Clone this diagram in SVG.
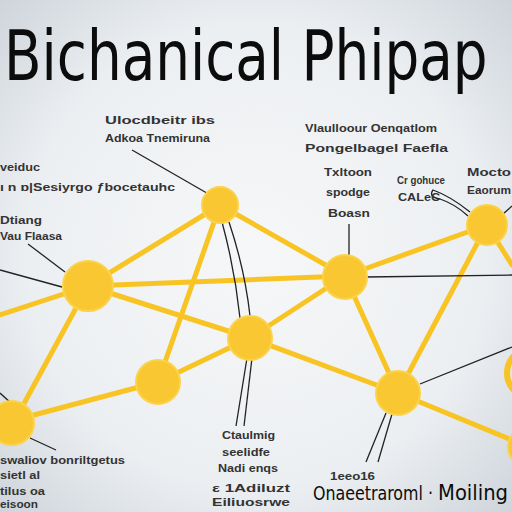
<svg xmlns="http://www.w3.org/2000/svg" width="512" height="512" viewBox="0 0 512 512">
<defs>
<radialGradient id="bg" cx="0.5" cy="0.5" r="0.75">
<stop offset="0" stop-color="#f6f7f8"/>
<stop offset="0.6" stop-color="#eceff2"/>
<stop offset="1" stop-color="#c9d0d7"/>
</radialGradient>
<style>
.edge{stroke:#f8c424;stroke-width:5;fill:none;stroke-linecap:round}
.call{stroke:#222;stroke-width:1.3;fill:none}
.node{fill:#f8c732;stroke:#fbd24a;stroke-width:2}
.lbl{font-family:"Liberation Sans",Arial,sans-serif;font-size:11px;fill:#333;font-weight:bold}
.ttl{font-family:"DejaVu Sans Condensed","DejaVu Sans","Liberation Sans",sans-serif;fill:#0c0c0c}
</style>
</defs>
<rect width="512" height="512" fill="url(#bg)"/>
<g id="title" transform="translate(4,80) scale(0.87,1)">
<text class="ttl" x="0" y="0" font-size="70" font-stretch="condensed">Bichanical Phipap</text>
</g>

<g id="connectors">
<line class="edge" x1="88" y1="286" x2="220" y2="205"/>
<line class="edge" x1="88" y1="286" x2="345" y2="276"/>
<line class="edge" x1="220" y1="205" x2="345" y2="276"/>
<line class="edge" x1="220" y1="205" x2="158" y2="382"/>
<line class="edge" x1="88" y1="286" x2="250" y2="338"/>
<line class="edge" x1="88" y1="286" x2="15" y2="420"/>
<line class="edge" x1="88" y1="286" x2="0" y2="315"/>
<line class="edge" x1="250" y1="338" x2="345" y2="276"/>
<line class="edge" x1="250" y1="338" x2="398" y2="393"/>
<line class="edge" x1="158" y1="382" x2="250" y2="338"/>
<line class="edge" x1="158" y1="382" x2="15" y2="420"/>
<line class="edge" x1="345" y1="276" x2="487" y2="225"/>
<line class="edge" x1="487" y1="225" x2="398" y2="393"/>
<line class="edge" x1="487" y1="225" x2="512" y2="265"/>
<line class="edge" x1="345" y1="276" x2="398" y2="393"/>
<line class="edge" x1="398" y1="393" x2="512" y2="440"/>

<line class="call" x1="132" y1="150" x2="212" y2="196"/>
<line class="call" x1="28" y1="244" x2="65" y2="272"/>
<line class="call" x1="0" y1="270" x2="62" y2="287"/>
<path class="call" d="M222 222 Q235 270 240 318"/>
<path class="call" d="M229 222 Q245 270 250 316"/>
<line class="call" x1="247" y1="358" x2="236" y2="426"/>
<line class="call" x1="252" y1="358" x2="244" y2="426"/>
<line class="call" x1="349" y1="255" x2="349" y2="224"/>
<line class="call" x1="366" y1="277" x2="512" y2="275"/>
<path class="call" d="M470 212 Q450 196 433 190 Q428 197 440 199 Q455 204 468 216"/>
<line class="call" x1="503" y1="214" x2="512" y2="206" stroke="#667"/>
<line class="call" x1="420" y1="384" x2="512" y2="347"/>
<line class="call" x1="386" y1="413" x2="366" y2="462"/>
<line class="call" x1="392" y1="414" x2="378" y2="462"/>
<line class="call" x1="0" y1="393" x2="12" y2="404"/>
<line class="call" x1="30" y1="438" x2="56" y2="450"/>
</g>

<g id="n-A"><circle class="node" cx="220" cy="205" r="18"/></g>
<g id="n-B"><circle class="node" cx="88" cy="286" r="25"/></g>
<g id="n-C"><circle class="node" cx="345" cy="277" r="22"/></g>
<g id="n-D"><circle class="node" cx="487" cy="225" r="20"/></g>
<g id="n-E"><circle class="node" cx="250" cy="338" r="22"/></g>
<g id="n-F"><circle class="node" cx="158" cy="382" r="22"/></g>
<g id="n-G"><circle class="node" cx="398" cy="393" r="22"/></g>
<g id="n-H"><circle class="node" cx="12" cy="423" r="22"/></g>
<g id="n-I"><circle cx="532" cy="373" r="25" fill="none" stroke="#f8c424" stroke-width="6"/></g>
<g id="n-J"><circle class="node" cx="528" cy="447" r="20"/></g>

<g id="labels">
<text class="lbl" x="105" y="124" textLength="110" lengthAdjust="spacingAndGlyphs">Ulocdbeitr ibs</text>
<text class="lbl" x="105" y="142" textLength="105" lengthAdjust="spacingAndGlyphs">Adkoa  Tnemiruna</text>
<text class="lbl" x="0" y="171" textLength="40" lengthAdjust="spacingAndGlyphs">veiduc</text>
<text class="lbl" x="0" y="191" textLength="175" lengthAdjust="spacingAndGlyphs">ı n ɒ|Sesiyrgo ƒbocetauhc</text>
<text class="lbl" x="0" y="224" textLength="42" lengthAdjust="spacingAndGlyphs">Dtiang</text>
<text class="lbl" x="0" y="240" textLength="62" lengthAdjust="spacingAndGlyphs">Vau  Flaasa</text>
<text class="lbl" x="305" y="132" textLength="132" lengthAdjust="spacingAndGlyphs">Vlaulloour Oenqatlom</text>
<text class="lbl" x="305" y="152" textLength="143" lengthAdjust="spacingAndGlyphs">Pongelbagel Faefla</text>
<text class="lbl" x="324" y="176" textLength="48" lengthAdjust="spacingAndGlyphs">Txltoon</text>
<text class="lbl" x="326" y="196" textLength="44" lengthAdjust="spacingAndGlyphs">spodge</text>
<text class="lbl" x="328" y="217" textLength="42" lengthAdjust="spacingAndGlyphs">Boasn</text>
<text class="lbl" x="397" y="184" textLength="48" lengthAdjust="spacingAndGlyphs">Cr gohuce</text>
<text class="lbl" x="398" y="201" textLength="42" lengthAdjust="spacingAndGlyphs">CALeC</text>
<text class="lbl" x="467" y="176" font-size="13" textLength="44" lengthAdjust="spacingAndGlyphs">Mocto</text>
<text class="lbl" x="467" y="194" font-size="13" textLength="44" lengthAdjust="spacingAndGlyphs">Eaorum</text>
<text class="lbl" x="0" y="464" textLength="125" lengthAdjust="spacingAndGlyphs">swaliov bonriltgetus</text>
<text class="lbl" x="0" y="479" textLength="40" lengthAdjust="spacingAndGlyphs">sietl al</text>
<text class="lbl" x="0" y="495" textLength="45" lengthAdjust="spacingAndGlyphs">tilus oa</text>
<text class="lbl" x="0" y="508" font-size="10" textLength="38" lengthAdjust="spacingAndGlyphs">eisoon</text>
<text class="lbl" x="222" y="439" textLength="53" lengthAdjust="spacingAndGlyphs">Ctaulmig</text>
<text class="lbl" x="222" y="456" textLength="48" lengthAdjust="spacingAndGlyphs">seelidfe</text>
<text class="lbl" x="218" y="472" textLength="60" lengthAdjust="spacingAndGlyphs">Nadi enqs</text>
<text class="lbl" x="212" y="492" textLength="78" lengthAdjust="spacingAndGlyphs">ε  1Adiluzt</text>
<text class="lbl" x="212" y="506" textLength="78" lengthAdjust="spacingAndGlyphs">Eiliuosrwe</text>
<text class="lbl" x="330" y="480" textLength="45" lengthAdjust="spacingAndGlyphs">1eeo16</text>
<text class="ttl" x="313" y="500" font-size="19" textLength="120" lengthAdjust="spacingAndGlyphs">Onaeetraroml ·</text>
<text class="ttl" x="438" y="500" font-size="22" textLength="70" lengthAdjust="spacingAndGlyphs">Moiling</text>
</g>
</svg>
